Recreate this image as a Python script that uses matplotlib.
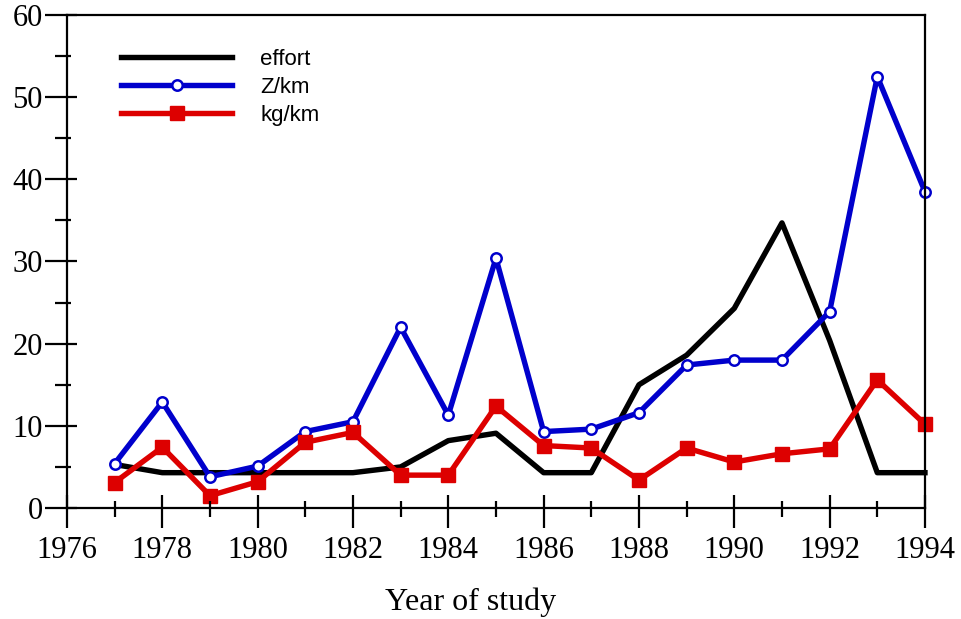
import matplotlib.pyplot as plt
from matplotlib.ticker import MultipleLocator

years = [1977, 1978, 1979, 1980, 1981, 1982, 1983, 1984, 1985,
         1986, 1987, 1988, 1989, 1990, 1991, 1992, 1993, 1994]
effort = [5.3, 4.3, 4.3, 4.3, 4.3, 4.3, 5.0, 8.2, 9.1,
          4.3, 4.3, 15.0, 18.6, 24.3, 34.7, 20.4, 4.3, 4.3]
z_km = [5.4, 12.9, 3.8, 5.1, 9.3, 10.5, 22.0, 11.3, 30.4,
        9.3, 9.6, 11.6, 17.4, 18.0, 18.0, 23.9, 52.5, 38.5]
kg_km = [3.1, 7.4, 1.5, 3.2, 8.0, 9.2, 4.0, 4.0, 12.4,
         7.6, 7.3, 3.4, 7.3, 5.6, 6.6, 7.2, 15.6, 10.2]

serif = 'Liberation Serif'
sans = 'Liberation Sans'
pos = [0.0696, 0.1793, 0.8919, 0.7965]

fig = plt.figure(figsize=(9.62, 6.19), dpi=100)
ax = fig.add_axes(pos)

ax.plot(years, effort, color='black', lw=3.9, label='effort', clip_on=False)
ax.plot(years, z_km, color='#0000cc', lw=3.9, marker='o', ms=7.5,
        mfc='white', mec='#0000cc', mew=1.8, label='Z/km', clip_on=False)
ax.plot(years, kg_km, color='#dd0000', lw=3.9, marker='s', ms=9.5,
        label='kg/km', clip_on=False)

def setup_ticks(a):
    a.set_xlim(1976, 1994)
    a.set_ylim(0, 60)
    a.xaxis.set_major_locator(MultipleLocator(2))
    a.xaxis.set_minor_locator(MultipleLocator(1))
    a.yaxis.set_major_locator(MultipleLocator(10))
    a.yaxis.set_minor_locator(MultipleLocator(5))

setup_ticks(ax)
# outward part of the ticks
ax.tick_params(which='both', direction='out', width=1.6)
ax.tick_params(axis='y', which='major', length=15.8, pad=1.5)
ax.tick_params(axis='y', which='minor', length=8.6)
ax.tick_params(axis='x', which='major', length=14.4, pad=6)
ax.tick_params(axis='x', which='minor', length=6.5)
for s in ax.spines.values():
    s.set_linewidth(1.6)

# inward part of the ticks on an overlay axes
ax2 = fig.add_axes(pos, frameon=False)
setup_ticks(ax2)
ax2.tick_params(which='both', direction='in', width=1.6,
                labelleft=False, labelbottom=False)
ax2.tick_params(axis='y', which='major', length=7.2)
ax2.tick_params(axis='y', which='minor', length=2.9)
ax2.tick_params(axis='x', which='major', length=9.4)
ax2.tick_params(axis='x', which='minor', length=5)
ax2.patch.set_visible(False)

for lab in ax.get_xticklabels() + ax.get_yticklabels():
    lab.set_family(serif)
    lab.set_fontsize(22)

ax.set_xlabel('Year of study', family=serif, fontsize=23)
ax.xaxis.set_label_coords(0.47, -0.161)

leg = ax.legend(loc='upper left', bbox_to_anchor=(0.040, 0.971), frameon=False,
                prop={'family': sans, 'size': 16}, handlelength=5.0,
                handletextpad=1.25, labelspacing=0.3)
for line in leg.get_lines():
    line.set_linewidth(3.9)

fig.savefig('out.png', dpi=100)
